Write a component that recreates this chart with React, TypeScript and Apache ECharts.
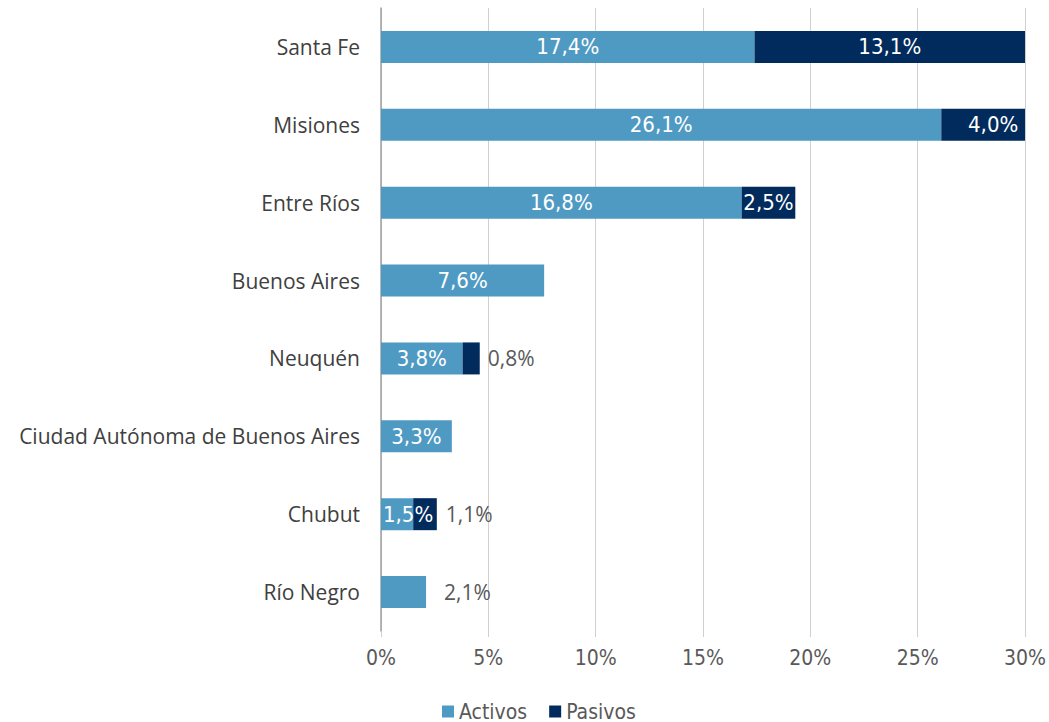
import React, { useEffect, useRef } from "react";
import * as echarts from "echarts";

const categories = [
  "Santa Fe",
  "Misiones",
  "Entre Ríos",
  "Buenos Aires",
  "Neuquén",
  "Ciudad Autónoma de Buenos Aires",
  "Chubut",
  "Río Negro",
];
const activos = [17.4, 26.1, 16.8, 7.6, 3.8, 3.3, 1.5, 2.1];
const pasivos: (number | null)[] = [13.1, 4.0, 2.5, null, 0.8, null, 1.1, null];
const xTicks = [0, 5, 10, 15, 20, 25, 30];

const COND = '"Liberation Sans Narrow", "DejaVu Sans Condensed", sans-serif';
const SANS = '"Open Sans", "Noto Sans", sans-serif';
const GRAY = "#595959";

const fmt = (v: number) => v.toFixed(1).replace(".", ",") + "%";

export default function App() {
  const ref = useRef<HTMLDivElement>(null);
  useEffect(() => {
    if (!ref.current) return;
    const chart = echarts.init(ref.current, undefined, { renderer: "svg" });
    const outside = (dist: number) => ({
      show: true,
      position: "right",
      distance: dist,
      color: GRAY,
      fontFamily: SANS,
      fontSize: 21,
    });
    const actData = activos.map((v, i) => {
      const name = categories[i];
      if (name === "Río Negro") return { value: v, label: outside(18) };
      if (name === "Chubut") return { value: v, label: { offset: [11, 0] } };
      return { value: v };
    });
    const pasData = pasivos.map((v, i) => {
      const name = categories[i];
      if (v == null) return { value: v, label: { show: false } };
      if (name === "Neuquén") return { value: v, label: outside(8) };
      if (name === "Chubut") return { value: v, label: outside(9) };
      if (name === "Misiones") return { value: v, label: { offset: [10, 0] } };
      return { value: v };
    });
    chart.setOption({
      animation: false,
      grid: { left: 381, right: 23, top: 8, bottom: 91 },
      legend: {
        left: 437,
        top: 696,
        itemWidth: 12,
        itemHeight: 12,
        itemGap: 22,
        icon: "rect",
        textStyle: { color: GRAY, fontFamily: COND, fontSize: 21 },
        data: ["Activos", "Pasivos"],
      },
      xAxis: {
        type: "value",
        min: xTicks[0],
        max: xTicks[xTicks.length - 1],
        interval: 5,
        axisLine: { show: false },
        axisTick: { show: true, length: 6, lineStyle: { color: "#d0d0d0" } },
        splitLine: { show: true, lineStyle: { color: "#d0d0d0", width: 1 } },
        axisLabel: {
          color: GRAY,
          fontFamily: COND,
          fontSize: 21,
          margin: 16,
          formatter: (v: number) => `${v}%`,
        },
      },
      yAxis: {
        type: "category",
        data: categories,
        inverse: true,
        axisLine: { show: true, lineStyle: { color: "#a0a0a0", width: 1.5 } },
        axisTick: { show: false },
        axisLabel: {
          color: "#404040",
          fontFamily: SANS,
          fontSize: 21,
          margin: 21,
        },
      },
      series: [
        {
          name: "Activos",
          type: "bar",
          stack: "t",
          barWidth: 32,
          itemStyle: { color: "#4f9ac3" },
          label: {
            show: true,
            position: "inside",
            color: "#ffffff",
            fontFamily: COND,
            fontSize: 22,
            formatter: (p: any) => fmt(p.value),
          },
          data: actData,
        },
        {
          name: "Pasivos",
          type: "bar",
          stack: "t",
          barWidth: 32,
          itemStyle: { color: "#002b5c" },
          label: {
            show: true,
            position: "inside",
            color: "#ffffff",
            fontFamily: COND,
            fontSize: 22,
            formatter: (p: any) => (p.value == null ? "" : fmt(p.value)),
          },
          data: pasData,
        },
      ],
    });
    return () => chart.dispose();
  }, []);
  return (
    <div
      ref={ref}
      style={{ position: "absolute", left: 0, top: 0, width: 1049, height: 722, background: "#fff" }}
    />
  );
}
